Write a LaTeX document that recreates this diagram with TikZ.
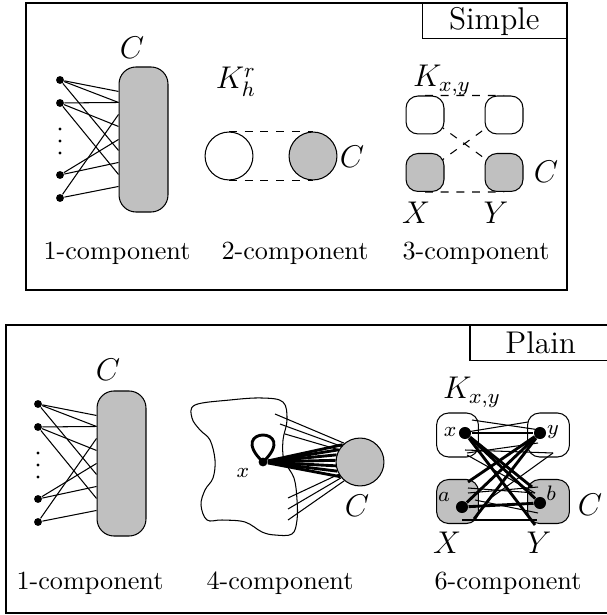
\documentclass[tikz,border=0pt]{standalone}
\usepackage{tikz}
\usetikzlibrary{calc,backgrounds}
\definecolor{compgray}{RGB}{192,192,192}

% 1-component: #1 name prefix, #2 shift
\newcommand{\onecomp}[2]{%
  \begin{scope}[shift={#2}]
    \node[comp, minimum width=18.7pt, minimum height=55.4pt, rounded corners=6.5pt] (#1c) at (143.5,139.5) {};
    \node[dot] (#1d1) at (60,80) {};
    \node[dot] (#1d2) at (60,103) {};
    \node[dot] (#1d3) at (60,175) {};
    \node[dot] (#1d4) at (60,198) {};
    \foreach \y in {129,141,153} \fill (60,\y) circle (0.65pt);
    \foreach \d/\e in {1/25,1/36,1/84,2/36,2/60,2/108,3/96,3/73,4/120,4/48}
      \draw (#1d\d) -- ($(#1c.north west)+(0,\e)$);
  \end{scope}}

\begin{document}
\begin{tikzpicture}[x=0.382pt, y=-0.382pt,
  frame/.style={draw, line width=0.5pt},
  tag/.style={draw, line width=0.5pt, font=\large, minimum height=13.4pt, inner sep=0pt, anchor=north east},
  comp/.style={draw, fill=compgray, inner sep=0pt},
  blank/.style={draw, fill=white, inner sep=0pt},
  dot/.style={circle, fill, inner sep=0pt, minimum size=3pt},
  vtx/.style={circle, fill, inner sep=0pt, minimum size=4.6pt},
  fat/.style={line width=1.1pt},
  lbl/.style={inner sep=0pt},
  sym/.style={font=\large, inner sep=0pt},
  vlbl/.style={font=\footnotesize, inner sep=0pt},
]
\useasboundingbox (0,0) rectangle (606,615);

% ---- Simple ----
\draw[frame] (26,3) rectangle (567,290);
\node[tag, minimum width=55pt] (simple) at (567,3) {Simple};

\onecomp{s}{(0,0)}
\node[sym] (sC) at (132,48) {$C$};
\node[lbl] (s1) at (117,253) {1-component};

% 2-component
\node[circle, draw, minimum size=18.3pt, inner sep=0pt] (h1) at (229,156) {};
\node[circle, comp, minimum size=18.3pt] (h2) at (313,156) {};
\draw[dashed] (h1.north) -- (h2.north) (h1.south) -- (h2.south);
\node[sym] (hK) at (236,82) {$K_h^r$};
\node[sym] (hC) at (352,157) {$C$};
\node[lbl] (s2) at (295,253) {2-component};

% 3-component
\node[blank, rounded corners=4.6pt, minimum size=14.5pt] (tl3) at (425,115) {};
\node[blank, rounded corners=4.6pt, minimum size=14.5pt] (tr3) at (504,115) {};
\node[comp, rounded corners=4.6pt, minimum size=14.5pt] (bl3) at (425,172.5) {};
\node[comp, rounded corners=4.6pt, minimum size=14.5pt] (br3) at (504,172.5) {};
\begin{scope}[on background layer]
  \draw[dashed] (tl3.north) -- (tr3.north) (bl3.south) -- (br3.south)
    (tl3.center) -- (br3.center) (bl3.center) -- (tr3.center);
\end{scope}
\node[sym] (kK) at (442,80) {$K_{x,y}$};
\node[sym] (kX) at (416,213) {$X$};
\node[sym] (kY) at (496,213) {$Y$};
\node[sym] (kC) at (546,172) {$C$};
\node[lbl] (s3) at (476,253) {3-component};

% ---- Plain ----
\draw[frame] (6,325) rectangle (612,613);
\node[tag, minimum width=54pt] (plain) at (612,325) {Plain};

\onecomp{p}{(-22,324)}
\node[sym] (pC) at (108,370) {$C$};
\node[lbl] (p1) at (90,583) {1-component};

% 4-component
\draw plot[smooth cycle, tension=0.6] coordinates {(195,405) (230,400) (262,398) (283,402)
  (287,420) (283,440) (284,460) (294,478) (297,500) (297,520) (292,534) (275,535)
  (262,532) (245,522) (222,520) (207,520) (201,505) (205,490) (213,478) (215,460)
  (210,440) (200,430) (192,418)};
\node[circle, comp, minimum size=18.3pt] (c4) at (360,462) {};
\node[circle, fill, inner sep=0pt, minimum size=3.4pt] (x4) at (263,462) {};
\draw[fat] (x4.center) .. controls (225,426) and (301,426) .. (x4.center);
\foreach \px/\py/\a in {275/414/130, 280/424/140, 285/434/150, 288/498/210, 288/509/220, 288/520/230} {
  \coordinate (e\a) at (\px,\py);
  \draw (e\a) -- (c4.\a);
}
\foreach \a in {135,150,163,176,189,202,217} \draw[fat] (x4) -- (c4.\a);
\node[vlbl] (x4l) at (243,473) {$x$};
\node[sym] (c4l) at (357,506) {$C$};
\node[lbl] (p4) at (280,583) {4-component};

% 6-component
\node[blank, rounded corners=4.6pt, minimum width=16pt, minimum height=16.8pt] (tl6) at (457.5,435) {};
\node[blank, rounded corners=4.6pt, minimum width=16pt, minimum height=16.8pt] (tr6) at (548.5,435) {};
\node[comp, rounded corners=4.6pt, minimum width=16pt, minimum height=16.8pt] (bl6) at (457.5,501.5) {};
\node[comp, rounded corners=4.6pt, minimum width=16pt, minimum height=16.8pt] (br6) at (548.5,501.5) {};
\node[vtx] (vx) at (465,433) {};
\node[vtx] (vy) at (540,433) {};
\node[vtx] (va) at (462,507) {};
\node[vtx] (vb) at (540,503) {};
\foreach \ax/\ay/\bx/\by in {472/420/540/430, 467/432/528/422, 465/450/553/453, 467/453/538/443,
  467/455/535/493, 553/453/492/497, 468/488/535/493, 468/493/538/487, 475/500/538/513, 462/520/537/520}
  \draw (\ax,\ay) -- (\bx,\by);
\coordinate (xb1) at (535,525);
\coordinate (xb2) at (532,487);
\coordinate (ya1) at (468,482);
\coordinate (ya2) at (474,519);
\draw[fat] (vx) -- (vy);
\draw[fat] (vx) -- (vb);
\draw[fat] (vx) -- (xb1);
\draw[fat] (vx) -- (xb2);
\draw[fat] (vy) -- (va);
\draw[fat] (vy) -- (ya1);
\draw[fat] (vy) -- (ya2);
\draw[fat] (va) -- (vb);
\node[vlbl] (lx) at (450,432) {$x$};
\node[vlbl] (ly) at (553,432) {$y$};
\node[vlbl] (la) at (444,497) {$a$};
\node[vlbl] (lb) at (551,493) {$b$};
\node[sym] (qK) at (472,392) {$K_{x,y}$};
\node[sym] (qX) at (447,543) {$X$};
\node[sym] (qY) at (539,543) {$Y$};
\node[sym] (qC) at (590,505) {$C$};
\node[lbl] (p6) at (508,583) {6-component};
\end{tikzpicture}
\end{document}
